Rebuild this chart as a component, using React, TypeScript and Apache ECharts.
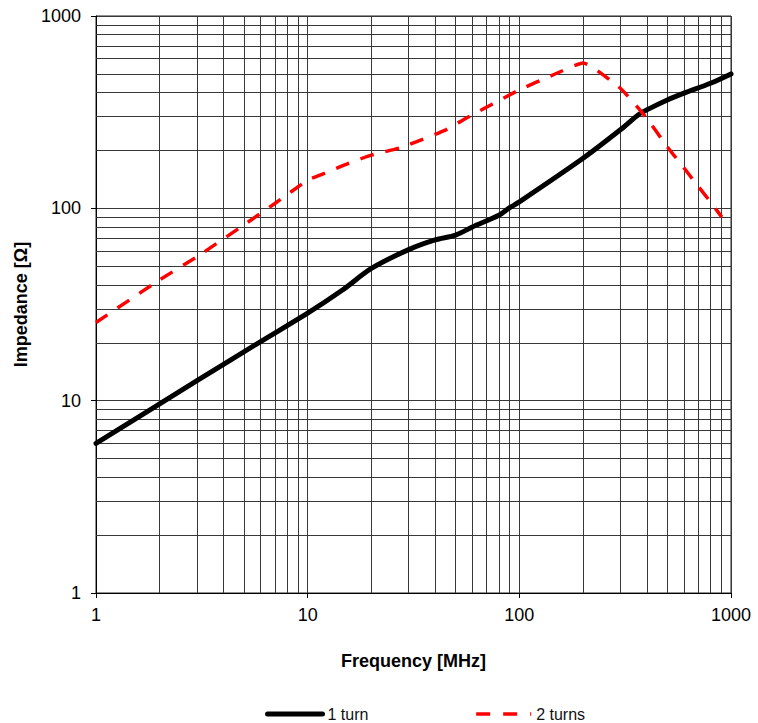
import { useEffect, useRef } from "react";
import * as echarts from "echarts";

const xTickValues = [1, 10, 100, 1000];
const yTickValues = [1, 10, 100, 1000];
const xMinorGrid = [2, 3, 4, 5, 6, 7, 8, 9, 20, 30, 40, 50, 60, 70, 80, 90, 200, 300, 400, 500, 600, 700, 800, 900];
const yMinorGrid = [2, 3, 4, 5, 6, 7, 8, 9, 20, 30, 40, 50, 60, 70, 80, 90, 200, 300, 400, 500, 600, 700, 800, 900];

const turn1Freq = [1, 3, 6, 10, 14.6, 20, 30, 40, 50, 60, 80, 89, 100, 200, 300, 364, 400, 500, 600, 800, 1000];
const turn1Z = [6, 12.7, 20.3, 28.5, 37.6, 48.7, 61, 68.5, 72.6, 80, 92, 100, 108, 182, 256, 306, 325, 366, 397, 447, 500];

const turn2Freq = [1, 2, 3, 5, 7, 10, 12, 15.7, 20, 28, 45, 56, 100, 145, 200, 300, 400, 500, 600, 700, 800, 905];
const turn2Z = [25.5, 42.5, 56, 82, 106, 140, 152, 172, 189, 208, 256, 294, 413, 495, 570, 421, 294, 209, 162, 130, 108, 90];

const seriesNames = ["1 turn", "2 turns"];

const FONT = "'Liberation Sans', Arial, sans-serif";

export default function App() {
  const ref = useRef<HTMLDivElement>(null);
  useEffect(() => {
    document.body.style.margin = "0";
    const chart = echarts.init(ref.current!, undefined, { renderer: "svg" });
    const gridLine = { color: "#383838", width: 1, type: "solid" as const };
    const hiddenSymbol = { color: "rgba(0,0,0,0)", borderWidth: 0, opacity: 0 };
    chart.setOption({
      animation: false,
      backgroundColor: "#ffffff",
      textStyle: { fontFamily: FONT },
      grid: {
        left: 96,
        right: 27,
        top: 16,
        bottom: 130,
        show: true,
        borderColor: "#222",
        borderWidth: 1,
        backgroundColor: "transparent",
      },
      xAxis: {
        type: "log",
        logBase: 10,
        min: xTickValues[0],
        max: xTickValues[xTickValues.length - 1],
        name: "Frequency [MHz]",
        nameLocation: "middle",
        nameGap: 59,
        nameTextStyle: { fontSize: 18, fontWeight: "bold", color: "#000", fontFamily: FONT },
        axisLine: { show: true, lineStyle: { color: "#000", width: 1 } },
        axisTick: { show: true, length: 5, inside: false, lineStyle: { color: "#000" } },
        axisLabel: {
          fontSize: 18,
          color: "#000",
          margin: 13,
          fontFamily: FONT,
          formatter: (v: number) => String(Math.round(v)),
        },
        splitLine: { show: true, lineStyle: gridLine },
      },
      yAxis: {
        type: "log",
        logBase: 10,
        min: yTickValues[0],
        max: yTickValues[yTickValues.length - 1],
        name: "Impedance [Ω]",
        nameLocation: "middle",
        nameGap: 46,
        nameTextStyle: { fontSize: 18, fontWeight: "bold", color: "#000", fontFamily: FONT },
        axisLine: { show: true, lineStyle: { color: "#000", width: 1 } },
        axisTick: { show: true, length: 5, inside: false, lineStyle: { color: "#000" } },
        axisLabel: {
          fontSize: 18,
          color: "#000",
          margin: 15,
          fontFamily: FONT,
          formatter: (v: number) => String(Math.round(v)),
        },
        splitLine: { show: true, lineStyle: gridLine },
      },
      legend: {
        left: 260,
        top: 701,
        itemWidth: 55,
        itemHeight: 14,
        itemGap: 106,
        textStyle: { fontSize: 16, color: "#111", fontFamily: FONT },
        data: [
          { name: seriesNames[0], lineStyle: { width: 5 }, itemStyle: hiddenSymbol },
          { name: seriesNames[1], lineStyle: { width: 3.5, type: [14, 13] }, itemStyle: hiddenSymbol },
        ],
      },
      series: [
        {
          type: "line",
          name: "grid",
          z: 1,
          silent: true,
          data: [],
          markLine: {
            silent: true,
            symbol: ["none", "none"],
            label: { show: false },
            emphasis: { disabled: true },
            lineStyle: gridLine,
            data: [
              ...xMinorGrid.map((v) => ({ xAxis: v })),
              ...yMinorGrid.map((v) => ({ yAxis: v })),
            ],
          },
        },
        {
          type: "line",
          name: seriesNames[0],
          z: 5,
          data: turn1Freq.map((f, i) => [f, turn1Z[i]]),
          showSymbol: false,
          symbol: "none",
          smooth: 0.3,
          lineStyle: { color: "#000", width: 5, cap: "round", join: "round" },
          itemStyle: { color: "#000" },
        },
        {
          type: "line",
          name: seriesNames[1],
          z: 6,
          data: turn2Freq.map((f, i) => [f, turn2Z[i]]),
          showSymbol: false,
          symbol: "none",
          smooth: 0.15,
          lineStyle: { color: "#ff0000", width: 3.5, type: [14, 12] },
          itemStyle: { color: "#ff0000" },
        },
      ],
    });
    return () => chart.dispose();
  }, []);
  return <div ref={ref} style={{ width: 758, height: 723 }} />;
}
